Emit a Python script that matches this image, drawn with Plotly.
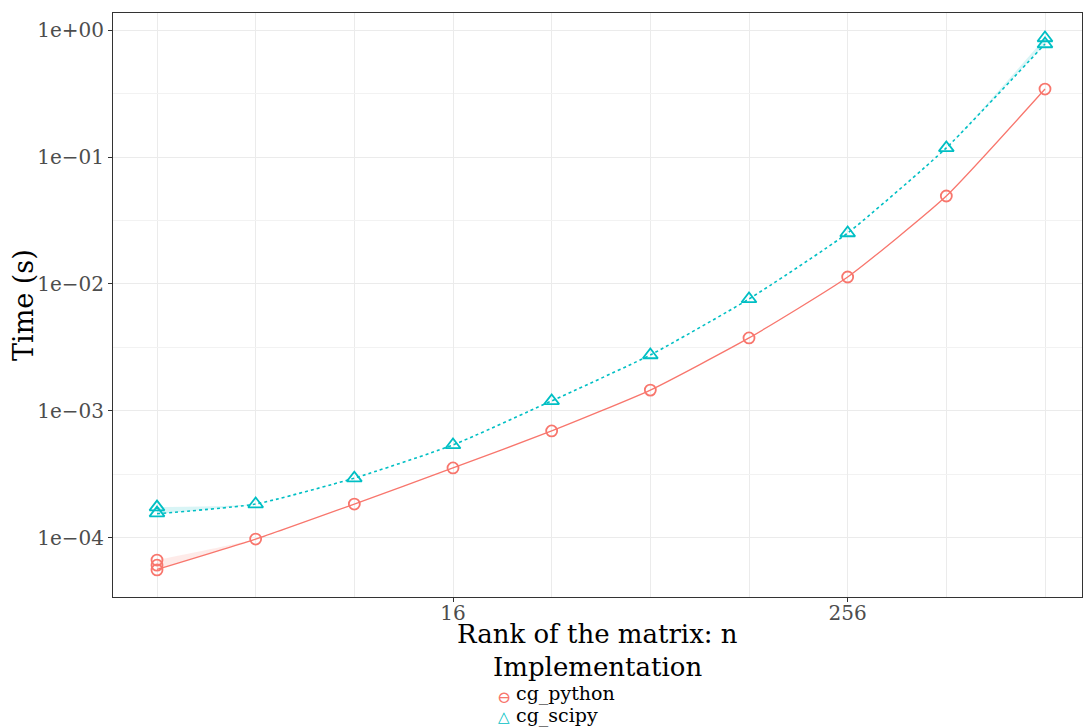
import plotly.graph_objects as go

# ---- data ----
n_values = [2, 4, 8, 16, 32, 64, 128, 256, 512, 1024]

python_line = [5.65e-5, 9.8e-5, 1.85e-4, 3.56e-4, 6.96e-4, 1.46e-3, 3.76e-3, 1.135e-2, 4.93e-2, 0.343]
python_upper = [6.7e-5, 9.8e-5, 1.85e-4, 3.56e-4, 6.96e-4, 1.46e-3, 3.76e-3, 1.135e-2, 4.93e-2, 0.343]
python_pts_n = [2, 2, 2, 4, 8, 16, 32, 64, 128, 256, 512, 1024]
python_pts_t = [6.7e-5, 6.1e-5, 5.6e-5, 9.8e-5, 1.85e-4, 3.56e-4, 6.96e-4, 1.46e-3, 3.76e-3, 1.135e-2, 4.93e-2, 0.343]

scipy_line = [1.55e-4, 1.85e-4, 2.96e-4, 5.4e-4, 1.2e-3, 2.76e-3, 7.62e-3, 2.52e-2, 0.118, 0.776]
scipy_upper = [1.75e-4, 1.85e-4, 2.96e-4, 5.4e-4, 1.2e-3, 2.76e-3, 7.62e-3, 2.52e-2, 0.118, 0.865]
scipy_pts_n = [2, 2, 4, 8, 16, 32, 64, 128, 256, 512, 1024, 1024]
scipy_pts_t = [1.75e-4, 1.57e-4, 1.85e-4, 2.96e-4, 5.4e-4, 1.2e-3, 2.76e-3, 7.62e-3, 2.52e-2, 0.118, 0.865, 0.776]

x_ticks = [16, 256]
x_tick_labels = ["16", "256"]
x_minor = [2, 4, 8, 32, 64, 128, 512, 1024]
y_ticks = [1e-4, 1e-3, 1e-2, 1e-1, 1]
y_tick_labels = ["1e\u221204", "1e\u221203", "1e\u221202", "1e\u221201", "1e+00"]
y_minor = [10 ** -4.5, 10 ** -3.5, 10 ** -2.5, 10 ** -1.5, 10 ** -0.5]

legend_title = "Implementation"
legend_labels = ["cg_python", "cg_scipy"]

RED = "#F8766D"
CYAN = "#00BFC4"
FONT = "DejaVu Serif"

fig = go.Figure()

# ribbons
for line, upper, fill in [(python_line, python_upper, "rgba(248,118,109,0.15)"),
                          (scipy_line, scipy_upper, "rgba(0,191,196,0.15)")]:
    fig.add_trace(go.Scatter(x=n_values, y=upper, mode="lines", line=dict(width=0, shape="spline", smoothing=0.5),
                             showlegend=False, hoverinfo="skip"))
    fig.add_trace(go.Scatter(x=n_values, y=line, mode="lines", line=dict(width=0, shape="spline", smoothing=0.5),
                             fill="tonexty", fillcolor=fill, showlegend=False, hoverinfo="skip"))

fig.add_trace(go.Scatter(x=n_values, y=python_line, mode="lines",
                         line=dict(color=RED, width=1.3, shape="spline", smoothing=0.5),
                         showlegend=False))
fig.add_trace(go.Scatter(x=n_values, y=scipy_line, mode="lines",
                         line=dict(color=CYAN, width=1.6, dash="dot", shape="spline", smoothing=0.5),
                         showlegend=False))
fig.add_trace(go.Scatter(x=python_pts_n, y=python_pts_t, mode="markers", name=legend_labels[0],
                         marker=dict(symbol="circle-open", size=11, color=RED, line=dict(width=1.8)),
                         showlegend=False))
fig.add_trace(go.Scatter(x=scipy_pts_n, y=scipy_pts_t, mode="markers", name=legend_labels[1],
                         marker=dict(symbol="triangle-up-open", size=13, color=CYAN, line=dict(width=1.8)),
                         showlegend=False))

fig.update_layout(
    width=1083, height=727,
    margin=dict(l=113, r=1, t=13, b=130, autoexpand=False),
    plot_bgcolor="white", paper_bgcolor="white",
    font=dict(family=FONT, color="black"),
    showlegend=False,
)

fig.update_xaxes(
    type="log", range=[0.1668, 3.1232], automargin=False,
    tickmode="array", tickvals=x_ticks, ticktext=x_tick_labels,
    tickfont=dict(size=20, color="#4D4D4D", family=FONT),
    ticks="outside", ticklen=4, tickcolor="#333333", tickwidth=1,
    ticklabelstandoff=-6,
    showgrid=True, gridcolor="#EBEBEB", gridwidth=1,
    minor=dict(tickvals=x_minor, showgrid=True, gridcolor="#EBEBEB", gridwidth=1, ticks=""),
    showline=True, linecolor="#333333", linewidth=1, mirror=True,
    zeroline=False,
)
fig.update_yaxes(
    type="log", range=[-4.465, 0.134], automargin=False,
    tickmode="array", tickvals=y_ticks, ticktext=y_tick_labels,
    tickfont=dict(size=20, color="#4D4D4D", family=FONT),
    ticks="outside", ticklen=4, tickcolor="#333333", tickwidth=1,
    showgrid=True, gridcolor="#EBEBEB", gridwidth=1,
    minor=dict(tickvals=y_minor, showgrid=True, gridcolor="#F2F2F2", gridwidth=1, ticks=""),
    showline=True, linecolor="#333333", linewidth=1, mirror=True,
    zeroline=False,
)

# axis titles
fig.add_annotation(text="Rank of the matrix: n", xref="paper", yref="paper", x=0.5, y=0, yshift=-21,
                   xanchor="center", yanchor="top", showarrow=False, borderpad=0,
                   font=dict(size=26, color="black", family=FONT))
fig.add_annotation(text="Time (s)", xref="paper", yref="paper", x=0, xshift=-90, y=0.5,
                   xanchor="center", yanchor="middle", textangle=-90, showarrow=False,
                   font=dict(size=27, color="black", family=FONT))

# legend (ggplot-style, drawn as text)
fig.add_annotation(text=legend_title, xref="paper", yref="paper", x=0.5, y=0, yshift=-54,
                   xanchor="center", yanchor="top", showarrow=False, borderpad=0,
                   font=dict(size=26, color="black", family=FONT))
fig.add_annotation(text="\u2296", xref="paper", yref="paper", x=0.404, y=0, yshift=-89,
                   xanchor="center", yanchor="top", showarrow=False, borderpad=0,
                   font=dict(size=17, color=RED, family=FONT))
fig.add_annotation(text=legend_labels[0], xref="paper", yref="paper", x=0.415, y=0, yshift=-84,
                   xanchor="left", yanchor="top", showarrow=False, borderpad=0,
                   font=dict(size=19, color="black", family=FONT))
fig.add_annotation(text="\u25B3", xref="paper", yref="paper", x=0.404, y=0, yshift=-110,
                   xanchor="center", yanchor="top", showarrow=False, borderpad=0,
                   font=dict(size=15, color=CYAN, family=FONT))
fig.add_annotation(text=legend_labels[1], xref="paper", yref="paper", x=0.415, y=0, yshift=-106,
                   xanchor="left", yanchor="top", showarrow=False, borderpad=0,
                   font=dict(size=19, color="black", family=FONT))

# remove the default page margin so the figure sits at the window's corner
fig.write_html("out.html", config={"displayModeBar": False},
               post_script="document.body.style.margin='0';document.body.style.overflow='hidden';")
